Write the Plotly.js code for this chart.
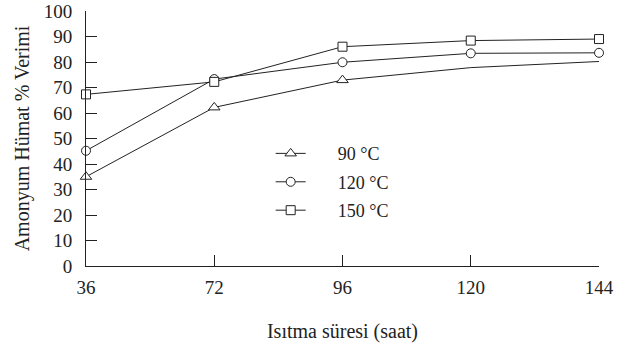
<!DOCTYPE html>
<html>
<head>
<meta charset="utf-8">
<script src="https://cdn.plot.ly/plotly-3.0.1.min.js"></script>
<style>html,body{margin:0;padding:0;background:#fff;}#chart{width:642px;height:352px;}</style>
</head>
<body>
<div id="chart"></div>
<script>
// Data
var hours = ['36', '72', '96', '120', '144'];
var yield90 = [35.0, 62.2, 72.9, 77.8, 80.2];
var yield120 = [45.2, 73.3, 79.9, 83.4, 83.6];
var yield150 = [67.3, 72.2, 86.0, 88.4, 89.0];
var markedPoints90 = 3; // 90 °C series shows markers only on its first three points
var legendNames = ['90 °C', '120 °C', '150 °C'];
var yTicks = [0, 10, 20, 30, 40, 50, 60, 70, 80, 90, 100];

var FONT = '"Liberation Serif", "Times New Roman", serif';
var pad = '\u00a0\u00a0\u00a0\u00a0\u00a0\u00a0';
var lineStyle = {color: '#222', width: 1};
function mk(sym, size) {
  return {symbol: sym, size: size, color: '#fff', line: {color: '#222', width: 1}};
}

var traces = [
  {x: hours.slice(markedPoints90 - 1), y: yield90.slice(markedPoints90 - 1), mode: 'lines', line: lineStyle,
   showlegend: false, hoverinfo: 'skip', cliponaxis: false},
  {x: hours.slice(0, markedPoints90), y: yield90.slice(0, markedPoints90), mode: 'lines+markers',
   name: pad + legendNames[0], line: lineStyle, marker: mk('triangle-up', 10), legendgroup: 'a', cliponaxis: false},
  {x: hours, y: yield120, mode: 'lines+markers', name: pad + legendNames[1], line: lineStyle,
   marker: mk('circle', 9), legendgroup: 'b', cliponaxis: false},
  {x: hours, y: yield150, mode: 'lines+markers', name: pad + legendNames[2], line: lineStyle,
   marker: mk('square', 9), legendgroup: 'c', cliponaxis: false}
];

var layout = {
  width: 642, height: 352,
  margin: {l: 86, r: 43, t: 11, b: 86},
  paper_bgcolor: '#fff', plot_bgcolor: '#fff',
  font: {family: FONT, size: 18, color: '#222'},
  showlegend: true,
  legend: {x: 0.36, xanchor: 'left', y: 0.513, yanchor: 'top', bgcolor: 'rgba(0,0,0,0)',
           font: {family: FONT, size: 18, color: '#222'}, traceorder: 'grouped', tracegroupgap: 2},
  xaxis: {
    type: 'category', categoryorder: 'array', categoryarray: hours, range: [0, 4],
    showline: true, linecolor: '#222', linewidth: 1,
    ticks: 'inside', ticklen: 11, tickcolor: '#222', showgrid: false, zeroline: false,
    tickfont: {family: FONT, size: 19, color: '#222'}, ticklabelstandoff: 4,
    title: {text: 'Isıtma süresi (saat)', font: {family: FONT, size: 20, color: '#222'}, standoff: 27}
  },
  yaxis: {
    range: [0, 100], tickvals: yTicks, showline: true, linecolor: '#222', linewidth: 1,
    ticks: 'inside', ticklen: 11, tickcolor: '#222', showgrid: false, zeroline: false,
    tickfont: {family: FONT, size: 19, color: '#222'}, ticklabelstandoff: 9,
    title: {text: 'Amonyum Hümat % Verimi', font: {family: FONT, size: 20, color: '#222'}, standoff: 8}
  }
};

Plotly.newPlot('chart', traces, layout, {staticPlot: true, displayModeBar: false});
</script>
</body>
</html>
